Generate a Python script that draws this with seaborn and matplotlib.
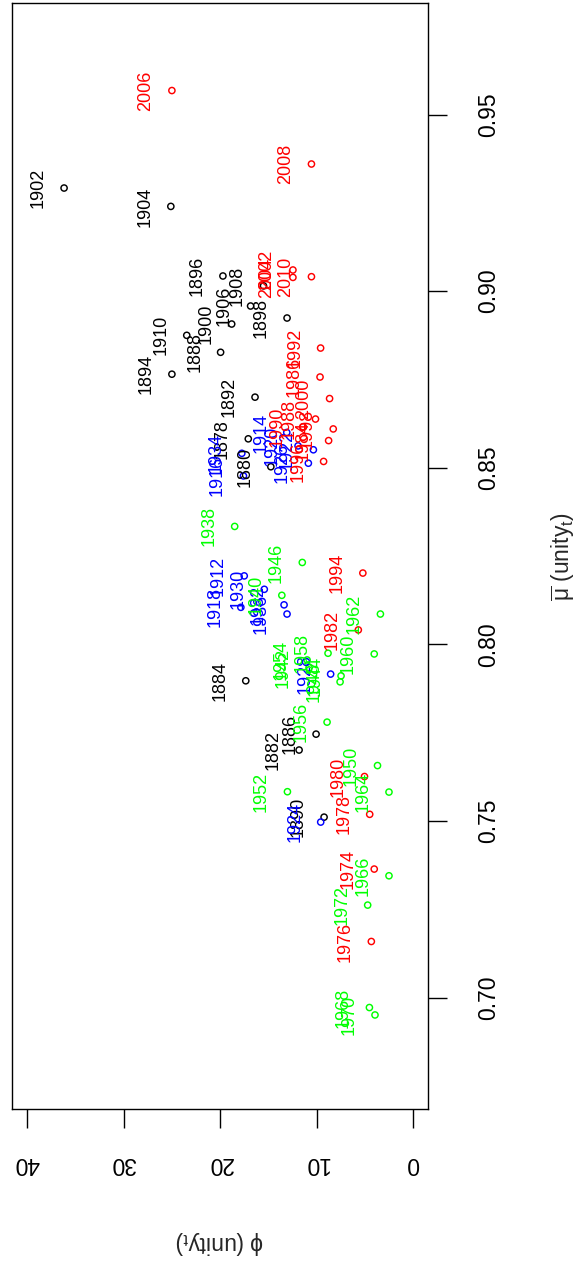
import numpy as np
import pandas as pd
import matplotlib
matplotlib.use("Agg")
import matplotlib.pyplot as plt
from matplotlib.ticker import FormatStrFormatter
import seaborn as sns

# Survey years, every second year 1878-2010
years = [1878, 1880, 1882, 1884, 1886, 1888, 1890, 1892, 1894, 1896, 1898,
         1900, 1902, 1904, 1906, 1908, 1910,
         1912, 1914, 1916, 1918, 1920, 1922, 1924, 1926, 1928, 1930, 1932,
         1934, 1936,
         1938, 1940, 1942, 1944, 1946, 1948, 1950, 1952, 1954, 1956, 1958,
         1960, 1962, 1964, 1966, 1968, 1970, 1972,
         1974, 1976, 1978, 1980, 1982, 1984, 1986, 1988, 1990, 1992, 1994,
         1996, 1998, 2000, 2002, 2004, 2006, 2008, 2010]

# phi (unity_t)
phi = [17.08, 14.74, 11.81, 17.34, 10.05, 19.95, 9.22, 16.38, 25.00, 19.71, 13.06,
       18.80, 36.18, 25.11, 16.84, 15.50, 23.46,
       17.50, 13.09, 17.58, 17.85, 11.92, 10.33, 9.57, 10.85, 8.54, 15.42, 13.37,
       17.75, 13.06,
       18.49, 13.60, 10.78, 7.46, 11.48, 7.56, 3.68, 13.02, 10.98, 8.91, 8.81,
       4.02, 3.38, 2.49, 2.49, 4.52, 3.94, 4.70,
       4.02, 4.32, 4.49, 5.03, 5.67, 8.75, 9.64, 10.11, 11.40, 9.58, 5.20,
       9.27, 8.27, 8.65, 12.45, 12.45, 25.00, 10.53, 10.53]

# mean mu (unity_t)
mu_bar = [0.8582, 0.8503, 0.7701, 0.7897, 0.7746, 0.8827, 0.7511, 0.8700, 0.8765, 0.9043, 0.8924,
          0.8907, 0.9292, 0.9240, 0.8958, 0.9015, 0.8875,
          0.8194, 0.8600, 0.8477, 0.8105, 0.8562, 0.8551, 0.7497, 0.8513, 0.7916, 0.8156, 0.8112,
          0.8541, 0.8086,
          0.8334, 0.8139, 0.7934, 0.7911, 0.8232, 0.7894, 0.7657, 0.7583, 0.7956, 0.7780, 0.7975,
          0.7973, 0.8086, 0.7582, 0.7345, 0.6972, 0.6951, 0.7262,
          0.7364, 0.7159, 0.7519, 0.7626, 0.8041, 0.8577, 0.8757, 0.8638, 0.8616, 0.8839, 0.8202,
          0.8518, 0.8610, 0.8696, 0.9060, 0.9039, 0.9568, 0.9360, 0.9041]

# Period boundaries and their colours
period_edges = [1911, 1937, 1973]
period_colors = ["black", "#0000FF", "#00FF00", "#FF0000"]

x_ticks = [0, 10, 20, 30, 40]
y_ticks = [0.70, 0.75, 0.80, 0.85, 0.90, 0.95]

sns.set_style("ticks")
plt.rcParams["font.family"] = ["Liberation Sans", "DejaVu Sans"]
plt.rcParams["mathtext.fontset"] = "custom"
plt.rcParams["mathtext.rm"] = "Liberation Sans"
plt.rcParams["mathtext.it"] = "Liberation Sans:italic"
plt.rcParams["mathtext.bf"] = "Liberation Sans:bold"
plt.rcParams["axes.edgecolor"] = "black"
plt.rcParams["text.color"] = "black"

df = pd.DataFrame({"year": years, "phi": phi, "mu": mu_bar})
df["period"] = np.digitize(df["year"], period_edges)
palette = {i: c for i, c in enumerate(period_colors)}

fig = plt.figure(figsize=(5.76, 12.66), dpi=100)
ax = fig.add_axes([0.0205, 0.1238, 0.7233, 0.8736])

sns.scatterplot(data=df, x="phi", y="mu", hue="period", palette=palette,
                s=20, linewidth=1.05, legend=False, ax=ax, zorder=2)
# open circles: move the hue colours to the edges
pts = ax.collections[0]
pts.set_edgecolors(pts.get_facecolors())
pts.set_facecolors("none")

for yr, x, y, p in zip(df["year"], df["phi"], df["mu"], df["period"]):
    ax.annotate(str(yr), (x, y), xytext=(-18.7, 0), textcoords="offset points",
                rotation=90, ha="center", va="center", fontsize=13,
                color=period_colors[p], zorder=3)

ax.set_xlim(41.6, -1.6)
ax.set_ylim(0.6684, 0.9815)
ax.set_xticks(x_ticks)
ax.set_yticks(y_ticks)
ax.yaxis.set_major_formatter(FormatStrFormatter("%.2f"))
ax.yaxis.tick_right()
ax.yaxis.set_label_position("right")

for s in ax.spines.values():
    s.set_visible(True)
    s.set_linewidth(1.0)
    s.set_color("black")

ax.tick_params(axis="both", direction="out", length=14, width=1.0,
               labelsize=16.5, color="black", labelcolor="black")
ax.tick_params(axis="x", labelrotation=180, pad=17)
ax.tick_params(axis="y", labelrotation=90, pad=21)
for lbl in ax.get_yticklabels():
    lbl.set_va("center")
    lbl.set_ha("left")

ax.set_xlabel(r"$\mathrm{\phi}$ (unity$_{\mathrm{t}}$)", rotation=180,
              fontsize=16.5, ha="center", va="center")
ax.xaxis.set_label_coords(0.5, -0.1209)
ax.set_ylabel(r"$\overline{\mathrm{\mu}}$ (unity$_{\mathrm{t}}$)", rotation=90,
              fontsize=16.5, ha="center", va="center")
ax.yaxis.set_label_coords(1.323, 0.5002)

fig.savefig("out.png", dpi=100)
